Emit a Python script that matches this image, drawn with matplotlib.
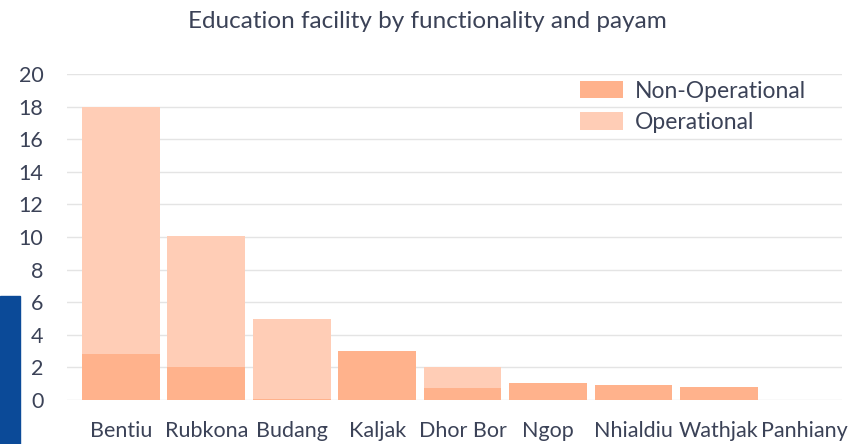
import matplotlib.pyplot as plt
import matplotlib.patches as mpatches
import numpy as np

payams = ['Bentiu', 'Rubkona', 'Budang', 'Kaljak', 'Dhor Bor', 'Ngop',
          'Nhialdiu', 'Wathjak', 'Panhiany']
non_operational = [2.8, 2.05, 0.05, 3.0, 0.75, 1.06, 0.93, 0.8, 0]
operational = [15.2, 8.0, 4.95, 0, 1.25, 0, 0, 0, 0]

text_col = '#3b4257'
plt.rcParams['font.family'] = ['Lato', 'DejaVu Sans']

fig = plt.figure(figsize=(8.55, 4.44), dpi=100)
ax = fig.add_axes([67 / 855, 44 / 444, 775 / 855, 326 / 444])

x = np.arange(len(payams))
ax.bar(x, non_operational, width=0.91, color='#ffb28c', label='Non-Operational', zorder=2)
ax.bar(x, operational, width=0.91, bottom=non_operational, color='#ffcdb6',
       label='Operational', zorder=2)

ax.set_xlim(-0.63, 8.44)
ax.set_ylim(0, 20)
ax.set_yticks(range(0, 21, 2))
ax.yaxis.grid(True, color='#e4e4e4', linewidth=1, zorder=0)
ax.set_xticks(x)
ax.set_xticklabels(payams)
ax.tick_params(axis='both', length=0, labelsize=15.5, colors=text_col)
ax.tick_params(axis='x', pad=15)
ax.tick_params(axis='y', pad=17)
for s in ax.spines.values():
    s.set_visible(False)

fig.legend(loc='upper left', bbox_to_anchor=(559 / 855, 1 - 60 / 444), frameon=False,
           fontsize=16.5, labelcolor=text_col, handlelength=1.9, handleheight=0.8,
           labelspacing=0.45, handletextpad=0.5)

fig.text(0.5, 1 - 22 / 444, 'Education facility by functionality and payam',
         ha='center', va='center', fontsize=17.5, color=text_col)

# blue side bar
fig.patches.append(mpatches.Rectangle((0, 0), 20 / 855, 148 / 444,
                                      transform=fig.transFigure,
                                      color='#0b4a98', zorder=5))

fig.savefig('out.png', dpi=100)
